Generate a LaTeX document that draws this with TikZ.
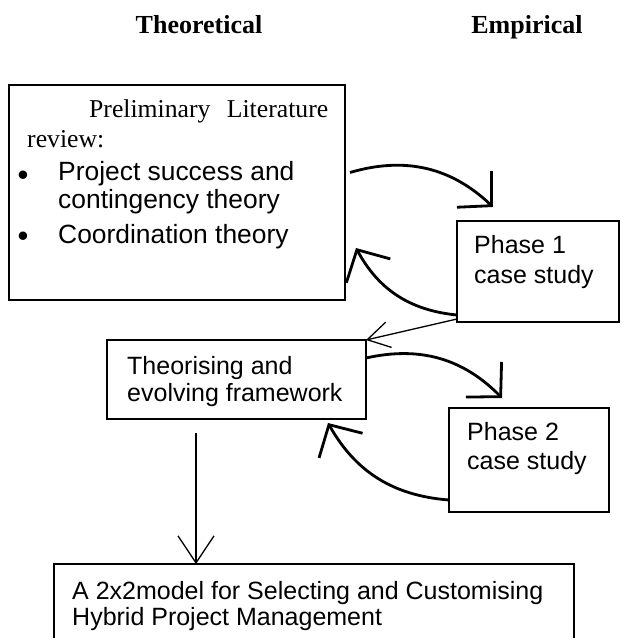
\documentclass[tikz,border=0pt]{standalone}
\usepackage{fontspec}
\setmainfont{Liberation Serif}
\setsansfont{Liberation Sans}
\usetikzlibrary{arrows.meta}
\begin{document}
\begin{tikzpicture}[x=1pt,y=1pt,
  box/.style={draw=black, line width=1.1pt, inner sep=0pt, outer sep=0pt, rectangle},
  sans/.style={font=\sffamily\fontsize{25}{30}\selectfont, inner sep=0pt, anchor=base west},
  sanslg/.style={font=\sffamily\fontsize{26.4}{31}\selectfont, inner sep=0pt, anchor=base west},
  bulletmark/.style={font=\sffamily\fontsize{31}{31}\selectfont, inner sep=0pt, anchor=base},
  serif/.style={font=\rmfamily\fontsize{25.7}{30}\selectfont, inner sep=0pt, anchor=base west},
  head/.style={font=\rmfamily\bfseries\fontsize{26}{30}\selectfont, inner sep=0pt, anchor=base},
  thickarrow/.style={line width=2.8pt, -{Straight Barb[length=24pt,width=50pt]}},
  thinarrow/.style={line width=1.3pt, -{Straight Barb[length=22pt,width=26pt]}},
]
\useasboundingbox (0,0) rectangle (621,-638);
\clip (0,0) rectangle (621,-638);

% headings
\node[head] (hth) at (199,-33) {Theoretical};
\node[head] (hem) at (527,-33) {Empirical};

% boxes
\node[box, minimum width=336pt, minimum height=215pt] (lit) at (177,-192.5) {};
\node[box, minimum width=162pt, minimum height=101pt] (p1) at (538,-271.5) {};
\node[box, minimum width=259pt, minimum height=79pt] (theo) at (236.5,-379.5) {};
\node[box, minimum width=160pt, minimum height=104pt] (p2) at (529,-460) {};
\node[box, minimum width=520pt, minimum height=100pt] (model) at (314,-614) {};

% texts of the literature box
\node[serif] (t1) at (89,-117) {\makebox[239pt][s]{Preliminary Literature}};
\node[serif] (t2) at (27,-147) {review:};
\node[bulletmark] (b1) at (23,-185) {•};
\node[sanslg] (t3) at (58,-180) {Project success and};
\node[sanslg] (t4) at (58,-208) {contingency theory};
\node[bulletmark] (b2) at (23,-246) {•};
\node[sanslg] (t5) at (58,-243) {Coordination theory};

% texts of other boxes
\node[sans] (p1a) at (474,-253) {Phase 1};
\node[sans] (p1b) at (474,-283) {case study};
\node[sans] (tha) at (127,-374) {Theorising and};
\node[sans] (thb) at (127,-401) {evolving framework};
\node[sans] (p2a) at (467,-440) {Phase 2};
\node[sans] (p2b) at (467,-469) {case study};
\node[sans] (ma) at (72,-599) {A 2x2model for Selecting and Customising};
\node[sans] (mb) at (72,-625) {Hybrid Project Management};

% connectors
\draw[thickarrow] ([xshift=5pt,yshift=20pt]lit.east) to[bend left=30] ([xshift=-45pt,yshift=14pt]p1.north);
\draw[thickarrow] ([yshift=7pt]p1.south west) to[bend left=28] ([xshift=11pt,yshift=52pt]lit.south east);
\draw[thinarrow] ([yshift=3pt]p1.south west) -- (theo.north east);
\draw[thickarrow] ([yshift=-18pt]theo.north east) to[bend left=29] ([xshift=-27pt,yshift=10pt]p2.north);
\draw[thickarrow] ([yshift=12pt]p2.south west) to[bend left=28] ([xshift=-38pt,yshift=-4pt]theo.south east);
\draw[line width=1.3pt, -{Straight Barb[length=27pt,width=36pt]}] ([xshift=89pt,yshift=-14pt]theo.south west) -- ([xshift=142pt]model.north west);
\end{tikzpicture}
\end{document}
